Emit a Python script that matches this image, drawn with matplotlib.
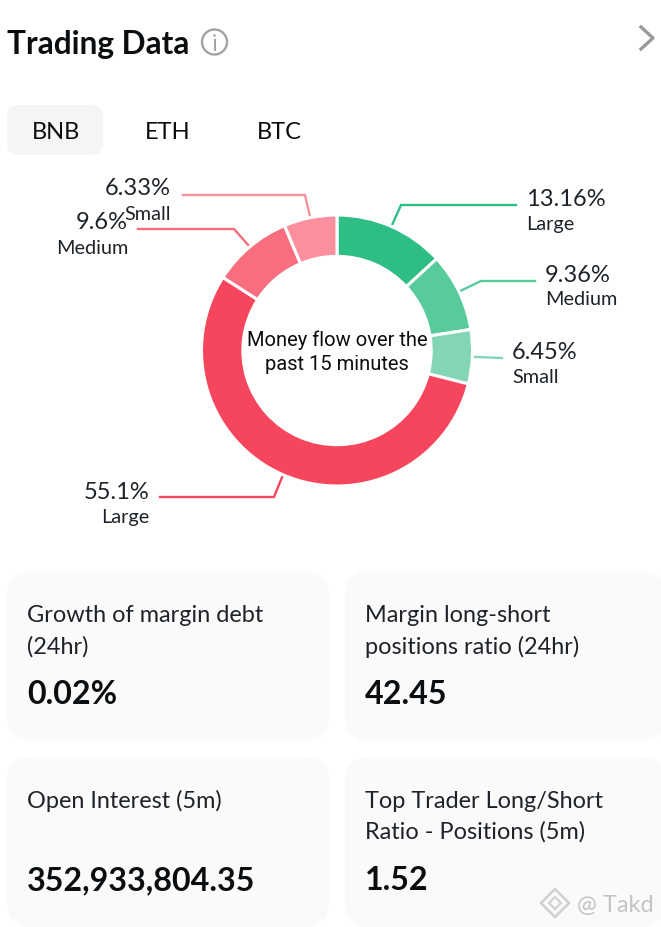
import numpy as np
import matplotlib
matplotlib.use('Agg')
import matplotlib.pyplot as plt
from matplotlib.patches import FancyBboxPatch, Circle, Polygon

W, H = 661, 928

# clockwise from 12 o'clock
flow_values = [13.16, 9.36, 6.45, 55.1, 9.6, 6.33]
flow_labels = ['13.16%', '9.36%', '6.45%', '55.1%', '9.6%', '6.33%']
flow_sizes = ['Large', 'Medium', 'Small', 'Large', 'Medium', 'Small']
flow_colors = ['#2EBD85', '#58CB9D', '#82D6B6', '#F6465D', '#F86E7E', '#FB8F9E']

tabs = ['BNB', 'ETH', 'BTC']
card_titles = [['Growth of margin debt', '(24hr)'],
               ['Margin long-short', 'positions ratio (24hr)'],
               ['Open Interest (5m)'],
               ['Top Trader Long/Short', 'Ratio - Positions (5m)']]
card_values = ['0.02%', '42.45', '352,933,804.35', '1.52']

plt.rcParams['font.family'] = ['Lato', 'DejaVu Sans']

fig = plt.figure(figsize=(W / 100, H / 100), dpi=100)
ax = fig.add_axes([0, 0, 1, 1])
ax.set_xlim(0, W)
ax.set_ylim(H - 1, -1)
ax.axis('off')


def rounded(x0, y0, x1, y1, r, color):
    ax.add_patch(FancyBboxPatch((x0 + r, y0 + r), x1 - x0 - 2 * r, y1 - y0 - 2 * r,
                                boxstyle='round,pad=%d,rounding_size=%d' % (r, r),
                                fc=color, ec='none', clip_on=True))


# header
ax.text(7, 53, 'Trading Data', fontsize=22.8, fontweight='bold', color='#0b0e11', va='baseline')
ax.add_patch(Circle((214.5, 42), 12.5, fc='none', ec='#a3a3a3', lw=1.7))
ax.add_patch(Circle((214.5, 35.5), 1.3, fc='#a3a3a3', ec='none'))
ax.plot([214.5, 214.5], [40, 50], color='#a3a3a3', lw=1.5)
ax.plot([641, 653, 641], [27, 38, 49], color='#9a9a9a', lw=2.4)

# tabs
rounded(7, 105, 103, 155, 12, '#f5f5f5')
for name, x in zip(tabs, [55.5, 167.5, 279]):
    ax.text(x, 138, name, fontsize=17, color='#0b0e11', ha='center', va='baseline')

# donut
cx, cy, radius = 337, 350.5, 135.5
pie_ax = fig.add_axes([(cx - radius) / W, 1 - (cy + 1 + radius) / H, 2 * radius / W, 2 * radius / H])
pie_ax.pie(flow_values, colors=flow_colors, startangle=90, counterclock=False, radius=1,
           wedgeprops=dict(width=0.305, edgecolor='white', linewidth=2.2))
pie_ax.set_xlim(-1, 1)
pie_ax.set_ylim(-1, 1)

ax.text(cx, 345, 'Money flow over the', fontsize=14.5, family='Roboto', color='#0b0e11', ha='center', va='baseline')
ax.text(cx, 369, 'past 15 minutes', fontsize=14.5, family='Roboto', color='#0b0e11', ha='center', va='baseline')

# leader knee and end, then label anchor for each slice
knees = [(401, 205), (481, 281), (502, 358), (274, 497), (234, 229), (305, 195)]
ends = [(516, 205), (535, 281), (502, 358), (160, 497), (138, 229), (183, 195)]
anchors = [(526, 205, 229, 'left'), (545, 281, 304, 'left'), (512, 358, 382, 'left'),
           (149, 498, 522, 'right'), (128, 228, 253, 'right'), (171, 194, 219, 'right')]
mids = (np.cumsum(flow_values) - np.array(flow_values) / 2) / sum(flow_values) * 2 * np.pi
for i, m in enumerate(mids):
    sx = cx + radius * np.sin(m)
    sy = cy - radius * np.cos(m)
    ax.plot([sx, knees[i][0], ends[i][0]], [sy, knees[i][1], ends[i][1]],
            color=flow_colors[i], lw=1.7, solid_joinstyle='miter')
    x, y1, y2, ha = anchors[i]
    ax.text(x, y1, flow_labels[i], fontsize=17, color='#1e2329', ha=ha, va='baseline')
    ax.text(x, y2, flow_sizes[i], fontsize=14.3, color='#1e2329', ha=ha, va='baseline')

# cards
card_x = [(7, 329), (345, 665)]
card_y = [(571, 741), (757, 927)]
title_base = [(621, 653), (807, 838)]
value_base = [703, 889]
for n in range(4):
    row, col = n // 2, n % 2
    x0, x1 = card_x[col]
    y0, y1 = card_y[row]
    rounded(x0, y0, x1, y1, 24, '#fafafa')
    tx = x0 + 20
    for line, y in zip(card_titles[n], title_base[row]):
        ax.text(tx, y, line, fontsize=16.9, color='#1e2329', va='baseline')
    ax.text(tx, value_base[row], card_values[n], fontsize=23.2, fontweight='bold',
            color='#0b0e11', va='baseline')

# watermark
ax.add_patch(Polygon([(555, 889), (569, 903), (555, 917), (541, 903)], closed=True,
                     fc='none', ec='#d0d0d0', lw=1.8))
ax.add_patch(Polygon([(555, 897), (561, 903), (555, 909), (549, 903)], closed=True,
                     fc='none', ec='#d0d0d0', lw=1.5))
ax.text(577, 911, '@ Takd', fontsize=17, color='#c4c4c4', va='baseline')

fig.savefig('out.png', dpi=100)
